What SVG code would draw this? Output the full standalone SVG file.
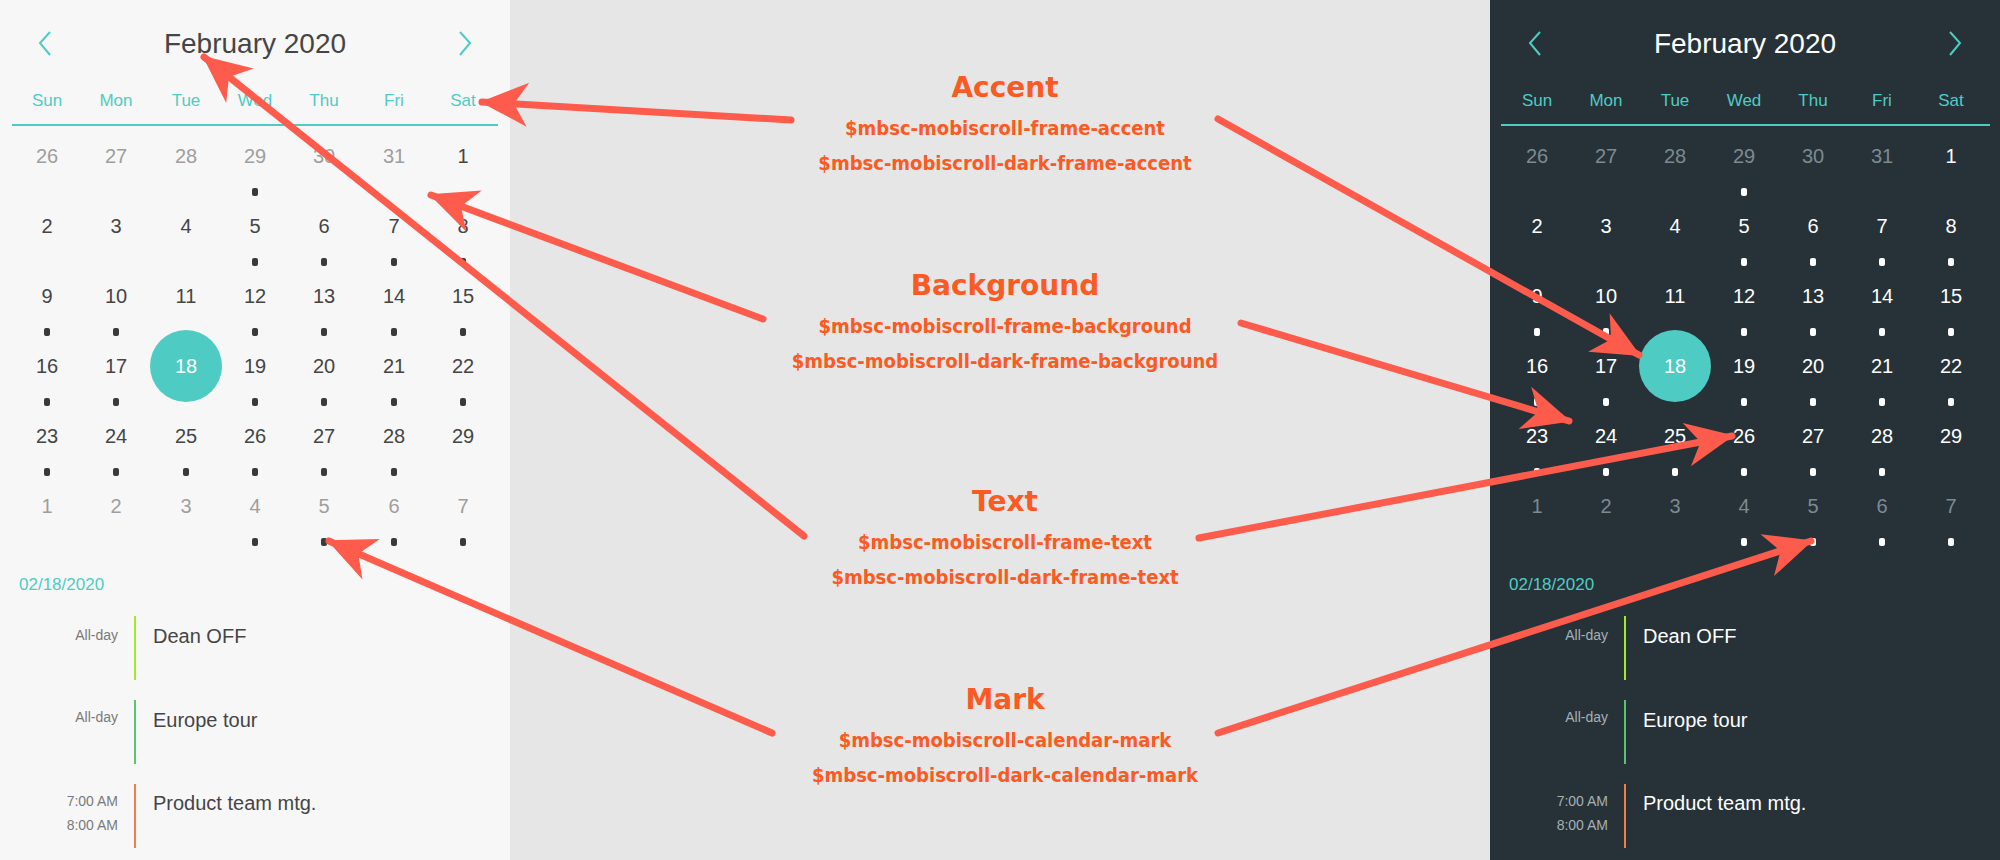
<svg xmlns="http://www.w3.org/2000/svg" width="2000" height="860" viewBox="0 0 2000 860">
<style>
text{font-family:"Liberation Sans",Arial,sans-serif}
.hd{font-size:28px;text-anchor:middle}
.dn{font-size:17px;text-anchor:middle;fill:#4eccc4}
.n{font-size:20px;text-anchor:middle}
.L .n{fill:#454545}.L .g{fill:#9e9e9e}.L .hd{fill:#454545}.L .dot{fill:#3a3a3a}
.D .n{fill:#ffffff}.D .g{fill:#7d8a90}.D .hd{fill:#ffffff}.D .dot{fill:#ffffff}
.chev{fill:none;stroke:#4eccc4;stroke-width:2}
.tm{font-size:14px;text-anchor:end}
.L .tm{fill:#7a7a7a}.D .tm{fill:#a7b0b4}
.ev{font-size:20px}
.L .ev{fill:#454545}.D .ev{fill:#ffffff}
.dt{font-size:17px;fill:#4eccc4}
.t1{font-family:"DejaVu Sans",sans-serif;font-weight:bold;font-size:28px;fill:#fb5a22;text-anchor:middle}
.t2{font-family:"DejaVu Sans Condensed","DejaVu Sans",sans-serif;font-weight:bold;font-size:20px;fill:#fb5a22;text-anchor:middle}
.ar{stroke:#fd5c4d;stroke-width:7;stroke-linecap:round;fill:none;marker-end:url(#ah)}
</style>
<defs>
<marker id="ah" markerUnits="userSpaceOnUse" markerWidth="60" markerHeight="60" refX="2" refY="0" viewBox="-50 -25 60 50" orient="auto" overflow="visible">
<path d="M4,0 L-44,-22 L-30,0 L-44,22 z" fill="#fd5c4d"/>
</marker>
<rect id="d" x="-3" y="-4" width="6" height="8" rx="2"/>
</defs>
<rect width="2000" height="860" fill="#e6e6e6"/>
<g id="light" class="L">
<rect width="510" height="860" fill="#f7f7f7"/>
<path class="chev" d="M50,32 L40,43 L50,55"/><path class="chev" d="M460,32 L470,43 L460,55"/>
<text class="hd" x="255" y="53">February 2020</text>
<g class="dn"><text x="47" y="106">Sun</text><text x="116" y="106">Mon</text><text x="186" y="106">Tue</text><text x="255" y="106">Wed</text><text x="324" y="106">Thu</text><text x="394" y="106">Fri</text><text x="463" y="106">Sat</text></g>
<line x1="12" y1="125" x2="498" y2="125" stroke="#4eccc4" stroke-width="2"/>
<circle cx="186" cy="366" r="36" fill="#4eccc4"/>
<g>
<text class="n g" x="47" y="163">26</text><text class="n g" x="116" y="163">27</text><text class="n g" x="186" y="163">28</text><text class="n g" x="255" y="163">29</text><text class="n g" x="324" y="163">30</text><text class="n g" x="394" y="163">31</text><text class="n" x="463" y="163">1</text>
<text class="n" x="47" y="233">2</text><text class="n" x="116" y="233">3</text><text class="n" x="186" y="233">4</text><text class="n" x="255" y="233">5</text><text class="n" x="324" y="233">6</text><text class="n" x="394" y="233">7</text><text class="n" x="463" y="233">8</text>
<text class="n" x="47" y="303">9</text><text class="n" x="116" y="303">10</text><text class="n" x="186" y="303">11</text><text class="n" x="255" y="303">12</text><text class="n" x="324" y="303">13</text><text class="n" x="394" y="303">14</text><text class="n" x="463" y="303">15</text>
<text class="n" x="47" y="373">16</text><text class="n" x="116" y="373">17</text><text class="n" x="186" y="373" style="fill:#fff">18</text><text class="n" x="255" y="373">19</text><text class="n" x="324" y="373">20</text><text class="n" x="394" y="373">21</text><text class="n" x="463" y="373">22</text>
<text class="n" x="47" y="443">23</text><text class="n" x="116" y="443">24</text><text class="n" x="186" y="443">25</text><text class="n" x="255" y="443">26</text><text class="n" x="324" y="443">27</text><text class="n" x="394" y="443">28</text><text class="n" x="463" y="443">29</text>
<text class="n g" x="47" y="513">1</text><text class="n g" x="116" y="513">2</text><text class="n g" x="186" y="513">3</text><text class="n g" x="255" y="513">4</text><text class="n g" x="324" y="513">5</text><text class="n g" x="394" y="513">6</text><text class="n g" x="463" y="513">7</text>
</g>
<g class="dot">
<use href="#d" x="255" y="192"/>
<use href="#d" x="255" y="262"/><use href="#d" x="324" y="262"/><use href="#d" x="394" y="262"/><use href="#d" x="463" y="262"/>
<use href="#d" x="47" y="332"/><use href="#d" x="116" y="332"/><use href="#d" x="255" y="332"/><use href="#d" x="324" y="332"/><use href="#d" x="394" y="332"/><use href="#d" x="463" y="332"/>
<use href="#d" x="47" y="402"/><use href="#d" x="116" y="402"/><use href="#d" x="255" y="402"/><use href="#d" x="324" y="402"/><use href="#d" x="394" y="402"/><use href="#d" x="463" y="402"/>
<use href="#d" x="47" y="472"/><use href="#d" x="116" y="472"/><use href="#d" x="186" y="472"/><use href="#d" x="255" y="472"/><use href="#d" x="324" y="472"/><use href="#d" x="394" y="472"/>
<use href="#d" x="255" y="542"/><use href="#d" x="324" y="542"/><use href="#d" x="394" y="542"/><use href="#d" x="463" y="542"/>
</g>
<text class="dt" x="19" y="590">02/18/2020</text>
<text class="tm" x="118" y="640">All-day</text><rect x="134" y="616" width="2" height="64" fill="#a0ea2a"/><text class="ev" x="153" y="643">Dean OFF</text>
<text class="tm" x="118" y="722">All-day</text><rect x="134" y="700" width="2" height="64" fill="#5cc46c"/><text class="ev" x="153" y="727">Europe tour</text>
<text class="tm" x="118" y="806">7:00 AM</text><text class="tm" x="118" y="830">8:00 AM</text><rect x="134" y="784" width="2" height="64" fill="#f47e46"/><text class="ev" x="153" y="810">Product team mtg.</text>
</g>
<g id="dark" class="D">
<rect x="1490" width="510" height="860" fill="#263238"/>
<path class="chev" d="M1540,32 L1530,43 L1540,55"/><path class="chev" d="M1950,32 L1960,43 L1950,55"/>
<text class="hd" x="1745" y="53">February 2020</text>
<g class="dn"><text x="1537" y="106">Sun</text><text x="1606" y="106">Mon</text><text x="1675" y="106">Tue</text><text x="1744" y="106">Wed</text><text x="1813" y="106">Thu</text><text x="1882" y="106">Fri</text><text x="1951" y="106">Sat</text></g>
<line x1="1501" y1="125" x2="1990" y2="125" stroke="#4eccc4" stroke-width="2"/>
<circle cx="1675" cy="366" r="36" fill="#4eccc4"/>
<g>
<text class="n g" x="1537" y="163">26</text><text class="n g" x="1606" y="163">27</text><text class="n g" x="1675" y="163">28</text><text class="n g" x="1744" y="163">29</text><text class="n g" x="1813" y="163">30</text><text class="n g" x="1882" y="163">31</text><text class="n" x="1951" y="163">1</text>
<text class="n" x="1537" y="233">2</text><text class="n" x="1606" y="233">3</text><text class="n" x="1675" y="233">4</text><text class="n" x="1744" y="233">5</text><text class="n" x="1813" y="233">6</text><text class="n" x="1882" y="233">7</text><text class="n" x="1951" y="233">8</text>
<text class="n" x="1537" y="303">9</text><text class="n" x="1606" y="303">10</text><text class="n" x="1675" y="303">11</text><text class="n" x="1744" y="303">12</text><text class="n" x="1813" y="303">13</text><text class="n" x="1882" y="303">14</text><text class="n" x="1951" y="303">15</text>
<text class="n" x="1537" y="373">16</text><text class="n" x="1606" y="373">17</text><text class="n" x="1675" y="373">18</text><text class="n" x="1744" y="373">19</text><text class="n" x="1813" y="373">20</text><text class="n" x="1882" y="373">21</text><text class="n" x="1951" y="373">22</text>
<text class="n" x="1537" y="443">23</text><text class="n" x="1606" y="443">24</text><text class="n" x="1675" y="443">25</text><text class="n" x="1744" y="443">26</text><text class="n" x="1813" y="443">27</text><text class="n" x="1882" y="443">28</text><text class="n" x="1951" y="443">29</text>
<text class="n g" x="1537" y="513">1</text><text class="n g" x="1606" y="513">2</text><text class="n g" x="1675" y="513">3</text><text class="n g" x="1744" y="513">4</text><text class="n g" x="1813" y="513">5</text><text class="n g" x="1882" y="513">6</text><text class="n g" x="1951" y="513">7</text>
</g>
<g class="dot">
<use href="#d" x="1744" y="192"/>
<use href="#d" x="1744" y="262"/><use href="#d" x="1813" y="262"/><use href="#d" x="1882" y="262"/><use href="#d" x="1951" y="262"/>
<use href="#d" x="1537" y="332"/><use href="#d" x="1606" y="332"/><use href="#d" x="1744" y="332"/><use href="#d" x="1813" y="332"/><use href="#d" x="1882" y="332"/><use href="#d" x="1951" y="332"/>
<use href="#d" x="1537" y="402"/><use href="#d" x="1606" y="402"/><use href="#d" x="1744" y="402"/><use href="#d" x="1813" y="402"/><use href="#d" x="1882" y="402"/><use href="#d" x="1951" y="402"/>
<use href="#d" x="1537" y="472"/><use href="#d" x="1606" y="472"/><use href="#d" x="1675" y="472"/><use href="#d" x="1744" y="472"/><use href="#d" x="1813" y="472"/><use href="#d" x="1882" y="472"/>
<use href="#d" x="1744" y="542"/><use href="#d" x="1813" y="542"/><use href="#d" x="1882" y="542"/><use href="#d" x="1951" y="542"/>
</g>
<text class="dt" x="1509" y="590">02/18/2020</text>
<text class="tm" x="1608" y="640">All-day</text><rect x="1624" y="616" width="2" height="64" fill="#a0ea2a"/><text class="ev" x="1643" y="643">Dean OFF</text>
<text class="tm" x="1608" y="722">All-day</text><rect x="1624" y="700" width="2" height="64" fill="#5cc46c"/><text class="ev" x="1643" y="727">Europe tour</text>
<text class="tm" x="1608" y="806">7:00 AM</text><text class="tm" x="1608" y="830">8:00 AM</text><rect x="1624" y="784" width="2" height="64" fill="#f47e46"/><text class="ev" x="1643" y="810">Product team mtg.</text>
</g>
<g id="label-accent"><text class="t1" x="1005" y="97">Accent</text><text class="t2" x="1005" y="135">$mbsc-mobiscroll-frame-accent</text><text class="t2" x="1005" y="170">$mbsc-mobiscroll-dark-frame-accent</text></g>
<g id="label-background"><text class="t1" x="1005" y="295">Background</text><text class="t2" x="1005" y="333">$mbsc-mobiscroll-frame-background</text><text class="t2" x="1005" y="368">$mbsc-mobiscroll-dark-frame-background</text></g>
<g id="label-text"><text class="t1" x="1005" y="511">Text</text><text class="t2" x="1005" y="549">$mbsc-mobiscroll-frame-text</text><text class="t2" x="1005" y="584">$mbsc-mobiscroll-dark-frame-text</text></g>
<g id="label-mark"><text class="t1" x="1005" y="709">Mark</text><text class="t2" x="1005" y="747">$mbsc-mobiscroll-calendar-mark</text><text class="t2" x="1005" y="782">$mbsc-mobiscroll-dark-calendar-mark</text></g>
<g id="connectors">
<line class="ar" x1="791" y1="120" x2="482" y2="102"/>
<line class="ar" x1="1218" y1="119" x2="1639" y2="355"/>
<line class="ar" x1="763" y1="319" x2="431" y2="195"/>
<line class="ar" x1="1241" y1="323" x2="1569" y2="421"/>
<line class="ar" x1="804" y1="536" x2="204" y2="57"/>
<line class="ar" x1="1199" y1="538" x2="1732" y2="436"/>
<line class="ar" x1="772" y1="733" x2="329" y2="541"/>
<line class="ar" x1="1218" y1="733" x2="1811" y2="541"/>
</g>
</svg>
